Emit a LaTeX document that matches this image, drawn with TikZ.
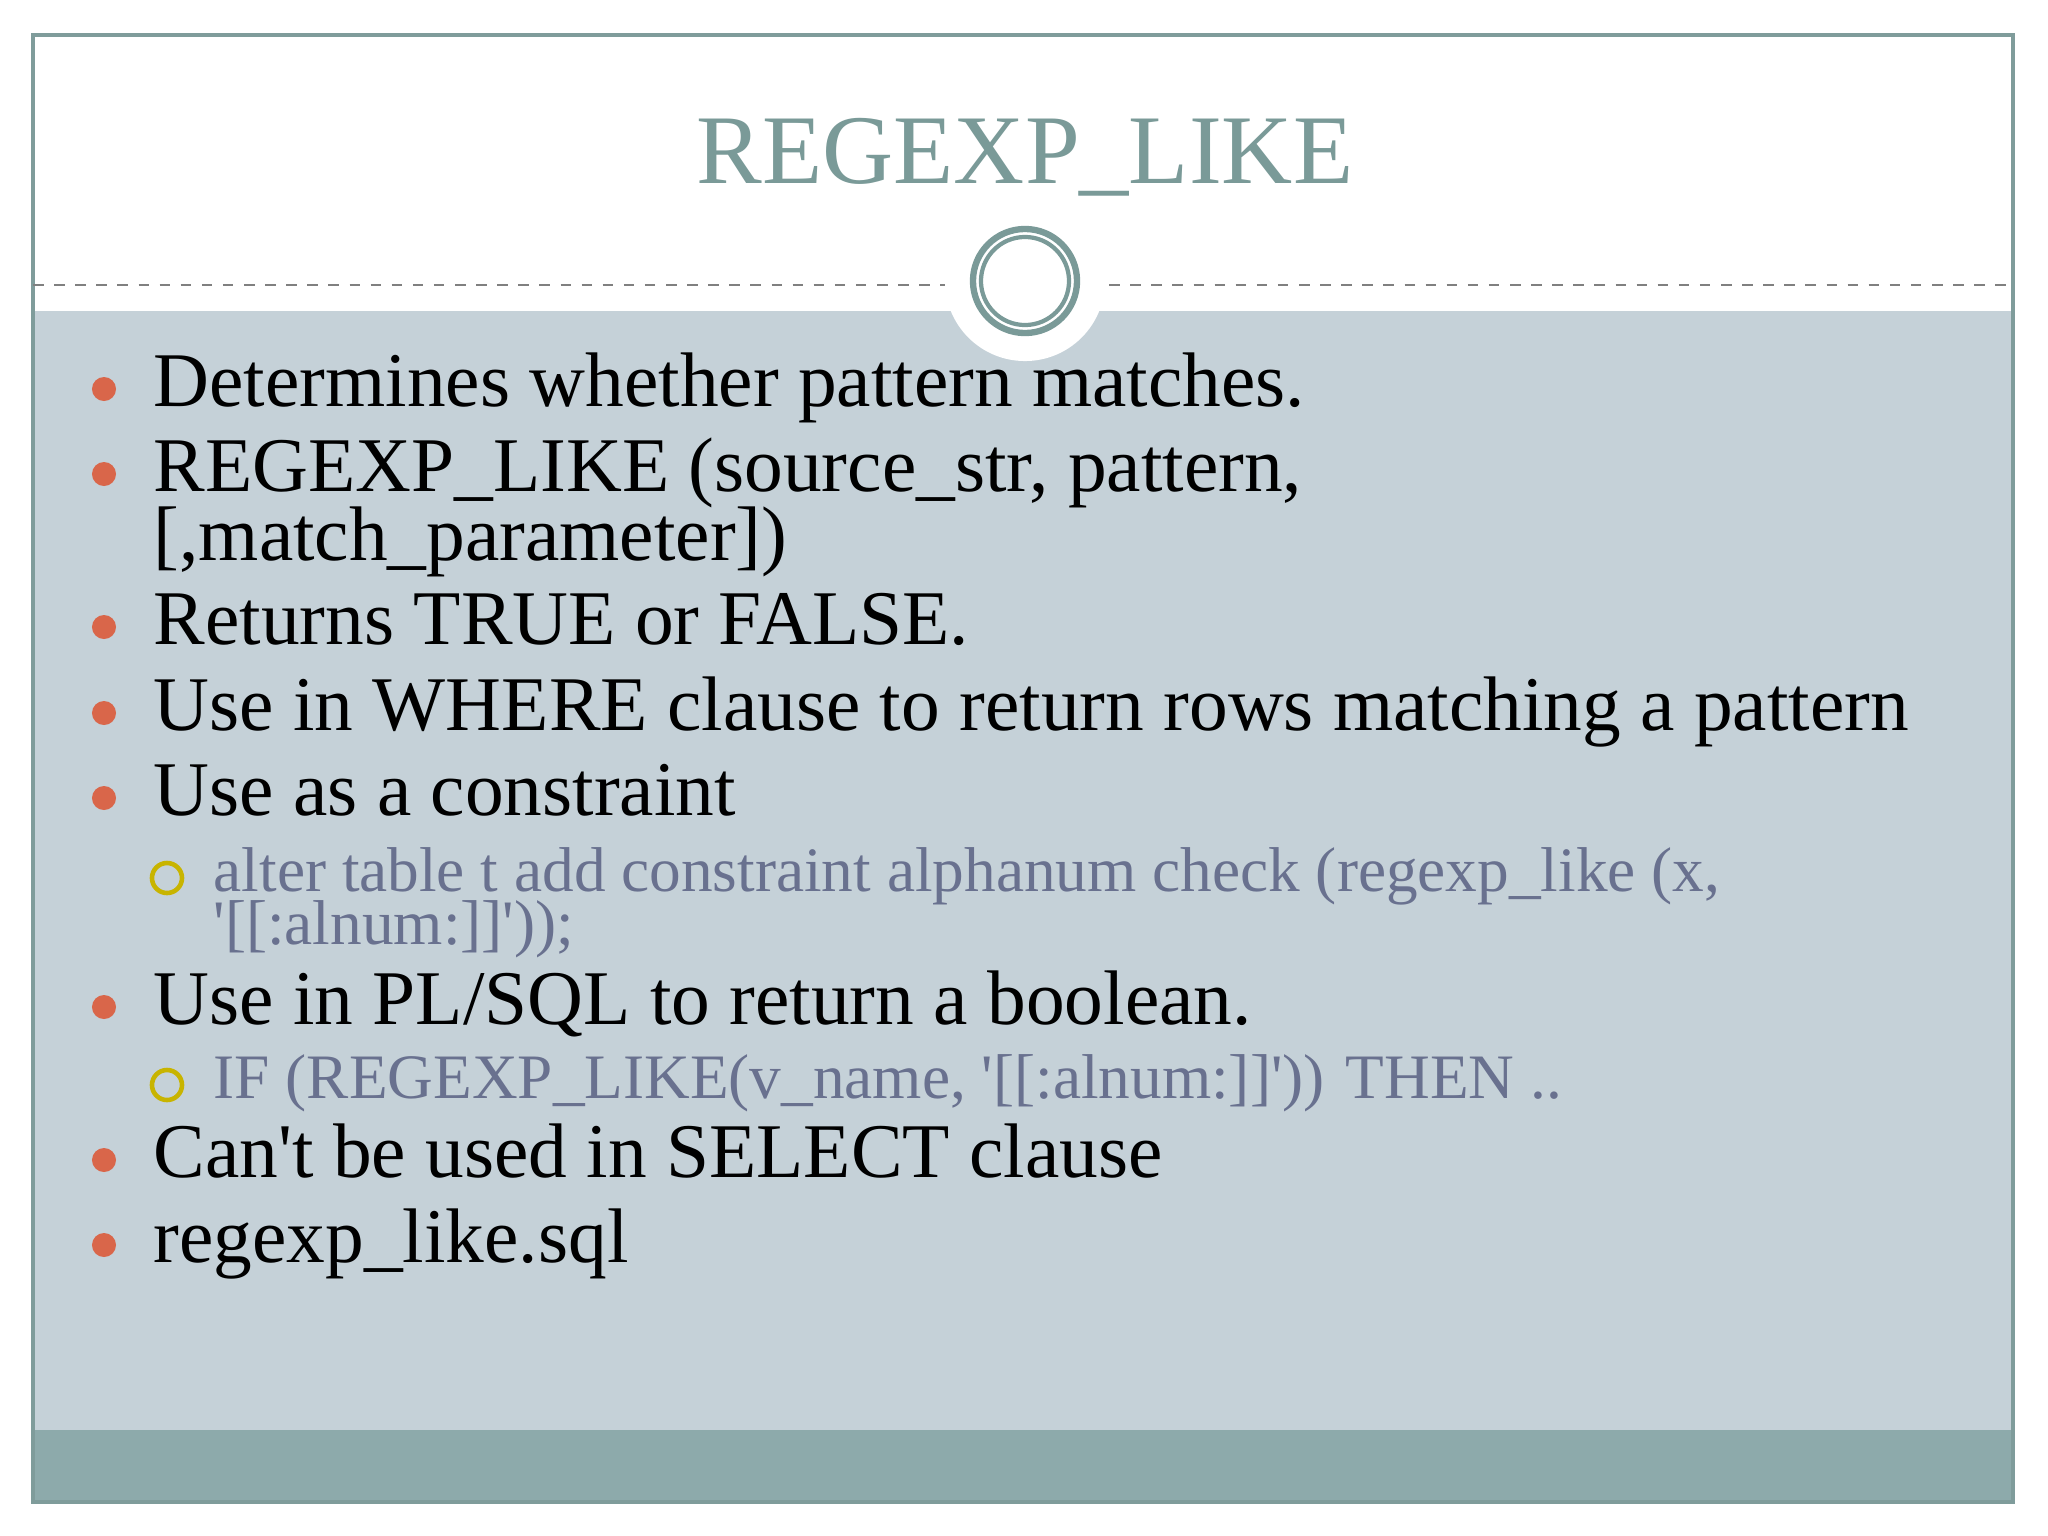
\documentclass[tikz,border=0pt]{standalone}
\usepackage{fontspec}
\setmainfont{Liberation Serif}
\newcommand{\sq}{\textquotesingle}
\begin{document}
\begin{tikzpicture}[x=0.01cm,y=-0.01cm,
  main/.style={anchor=base west,inner sep=0,font=\fontsize{22}{24}\selectfont,text=black},
  sub/.style={anchor=base west,inner sep=0,font=\fontsize{18}{17}\selectfont,text=subc},
  dot/.style={circle,fill=bulc,inner sep=0,minimum size=0.24cm},
  ring/.style={circle,draw=ringc,line width=1.3,inner sep=0,minimum size=0.3cm}]
\definecolor{titc}{HTML}{7A9A98}
\definecolor{bgc}{HTML}{C5D1D8}
\definecolor{bandc}{HTML}{8DAAAB}
\definecolor{bulc}{HTML}{D9664A}
\definecolor{ringc}{HTML}{C8B400}
\definecolor{subc}{HTML}{69718F}
\definecolor{framec}{HTML}{7F9C9B}
\useasboundingbox (0,0) rectangle (2048,1536);
\fill[white] (0,0) rectangle (2048,1536);
\fill[bgc] (33,311) rectangle (2013,1430);
\fill[bandc] (33,1430) rectangle (2013,1502);
\draw[framec,line width=1.2] (33,35) rectangle (2013,1502);
\draw[gray,dashed,line width=0.7] (33,285) -- (2013,285);
\node[circle,fill=white,minimum size=1.6cm,inner sep=0] (cw) at (1025,281) {};
\node[circle,draw=titc,line width=1.8,minimum size=1.04cm,inner sep=0] (c1) at (1025,281) {};
\node[circle,draw=titc,line width=1.2,minimum size=0.88cm,inner sep=0] (c2) at (1025,281) {};
\node[inner sep=0,font=\fontsize{28}{30}\selectfont,text=titc] (t) at (1025,157) {REGEXP\_LIKE};
\foreach \n/\y in {a/406,b/491,c/644,d/730,e/815,f/1024,g/1177,h/1262}
  \node[dot] (d\n) at (104,\y-17) {};
\foreach \n/\y in {s1/891,s2/1098}
  \node[ring] (r\n) at (167,\y-13) {};
\node[main] (ta) at (153,406) {Determines whether pattern matches.};
\node[main] (tb) at (153,491) {REGEXP\_LIKE (source\_str, pattern,};
\node[main] (tb2) at (153,560) {[,match\_parameter])};
\node[main] (tc) at (153,644) {Returns TRUE or FALSE.};
\node[main] (td) at (153,730) {Use in WHERE clause to return rows matching a pattern};
\node[main] (te) at (153,815) {Use as a constraint};
\node[sub] (ts1) at (213,891) {alter table t add constraint alphanum check (regexp\_like (x,};
\node[sub] (ts1b) at (213,944) {\sq[[:alnum:]]\sq));};
\node[main] (tf) at (153,1024) {Use in PL/SQL to return a boolean.};
\node[sub] (ts2) at (213,1098) {IF (REGEXP\_LIKE(v\_name, \sq[[:alnum:]]\sq)) THEN ..};
\node[main] (tg) at (153,1177) {Can\sq t be used in SELECT clause};
\node[main] (th) at (153,1262) {regexp\_like.sql};
\end{tikzpicture}
\end{document}
